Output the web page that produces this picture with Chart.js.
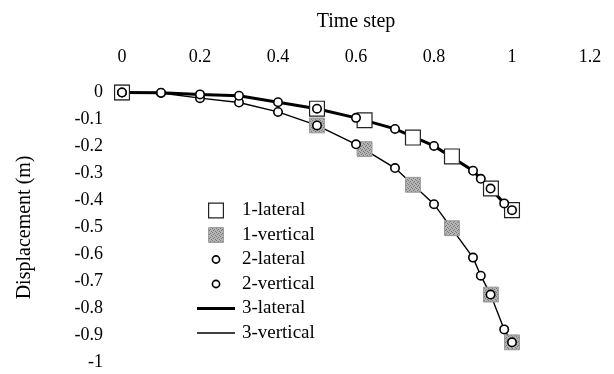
<!DOCTYPE html>
<html>
<head>
<meta charset="utf-8">
<script src="https://cdn.jsdelivr.net/npm/chart.js@4/dist/chart.umd.min.js"></script>
<style>
  html, body { margin: 0; padding: 0; background: #fff; }
  #wrap { position: relative; width: 614px; height: 374px; }
</style>
</head>
<body>
<div id="wrap"><canvas id="dispChart" width="614" height="374"></canvas></div>
<script>
// valores
const xTicks = [0, 0.2, 0.4, 0.6, 0.8, 1, 1.2];
const yTicks = [0, -0.1, -0.2, -0.3, -0.4, -0.5, -0.6, -0.7, -0.8, -0.9, -1];

// serie 1 (cuadrados)
const time1 = [0, 0.5, 0.622, 0.746, 0.846, 0.946, 1.0];
const lateral1 = [0, -0.06, -0.103, -0.167, -0.237, -0.356, -0.436];
const vertical1 = [0, -0.122, -0.21, -0.342, -0.503, -0.749, -0.926];

// serie 2 (circulos)
const time2 = [0, 0.1, 0.2, 0.3, 0.4, 0.5, 0.6, 0.7, 0.8, 0.9, 0.92, 0.945, 0.98, 1.0];
const lateral2 = [0, -0.001, -0.007, -0.012, -0.036, -0.06, -0.094, -0.135, -0.198, -0.29, -0.32, -0.356, -0.411, -0.436];
const vertical2 = [0, -0.002, -0.021, -0.037, -0.072, -0.122, -0.192, -0.28, -0.414, -0.612, -0.679, -0.749, -0.878, -0.926];

// serie 3 (lineas)
const time3 = [0, 0.1, 0.2, 0.3, 0.4, 0.5, 0.6, 0.7, 0.8, 0.9, 0.92, 0.945, 0.98, 1.0];
const lateral3 = [0, -0.001, -0.007, -0.012, -0.036, -0.06, -0.094, -0.135, -0.198, -0.29, -0.32, -0.356, -0.411, -0.436];
const vertical3 = [0, -0.002, -0.021, -0.037, -0.072, -0.122, -0.192, -0.28, -0.414, -0.612, -0.679, -0.749, -0.878, -0.926];

const serif = "'Liberation Serif', 'Times New Roman', serif";

function toPoints(xs, ys) {
  return xs.map((x, i) => ({ x: x, y: ys[i] }));
}

// textura gris para los cuadrados "1-vertical"
function grayPattern() {
  const c = document.createElement('canvas');
  c.width = 4; c.height = 4;
  const g = c.getContext('2d');
  g.fillStyle = '#b4b4b4';
  g.fillRect(0, 0, 4, 4);
  g.fillStyle = '#7a7a7a';
  g.fillRect(0, 0, 1, 1); g.fillRect(2, 1, 1, 1); g.fillRect(1, 2, 1, 1); g.fillRect(3, 3, 1, 1);
  return g.createPattern(c, 'repeat');
}
const gray = grayPattern();

const datasets = [
  {
    label: '1-lateral', data: toPoints(time1, lateral1), showLine: false,
    pointStyle: 'rect', pointRadius: 10.5, pointBackgroundColor: '#fff',
    pointBorderColor: '#222', pointBorderWidth: 1.2, order: 2
  },
  {
    label: '1-vertical', data: toPoints(time1, vertical1), showLine: false,
    pointStyle: 'rect', pointRadius: 10.5, pointBackgroundColor: gray,
    pointBorderColor: '#999', pointBorderWidth: 1, order: 2
  },
  {
    label: '2-lateral', data: toPoints(time2, lateral2), showLine: false,
    pointStyle: 'circle', pointRadius: 4.2, pointBackgroundColor: '#fff',
    pointBorderColor: '#000', pointBorderWidth: 1.6, order: 1
  },
  {
    label: '2-vertical', data: toPoints(time2, vertical2), showLine: false,
    pointStyle: 'circle', pointRadius: 4.2, pointBackgroundColor: '#fff',
    pointBorderColor: '#000', pointBorderWidth: 1.6, order: 1
  },
  {
    label: '3-lateral', data: toPoints(time3, lateral3), showLine: true,
    borderColor: '#000', borderWidth: 3, pointRadius: 0, tension: 0, order: 3
  },
  {
    label: '3-vertical', data: toPoints(time3, vertical3), showLine: true,
    borderColor: '#000', borderWidth: 1.4, pointRadius: 0, tension: 0, order: 3
  }
];

// leyenda dibujada dentro del area del grafico
const insideLegend = {
  id: 'insideLegend',
  afterDraw(chart) {
    const ctx = chart.ctx;
    const x0 = 216, y0 = 210.5, step = 24.5;
    ctx.save();
    ctx.font = '19px ' + serif;
    ctx.textBaseline = 'middle';
    ctx.textAlign = 'left';
    datasets.forEach((ds, i) => {
      const y = y0 + i * step;
      if (ds.showLine) {
        ctx.strokeStyle = ds.borderColor;
        ctx.lineWidth = ds.borderWidth;
        ctx.beginPath();
        ctx.moveTo(x0 - 19, y);
        ctx.lineTo(x0 + 19, y);
        ctx.stroke();
      } else {
        ctx.fillStyle = ds.pointBackgroundColor;
        ctx.strokeStyle = ds.pointBorderColor;
        ctx.lineWidth = ds.pointBorderWidth;
        ctx.beginPath();
        if (ds.pointStyle === 'rect') {
          ctx.rect(x0 - 7.4, y - 7.4, 14.8, 14.8);
        } else {
          ctx.arc(x0, y, 3.6, 0, Math.PI * 2);
        }
        ctx.fill();
        ctx.stroke();
      }
      ctx.fillStyle = '#000';
      ctx.fillText(ds.label, 242, y);
    });
    ctx.restore();
  }
};

new Chart(document.getElementById('dispChart'), {
  type: 'scatter',
  data: { datasets: datasets },
  options: {
    responsive: false,
    animation: false,
    clip: false,
    layout: { padding: { left: 0, right: 24, top: 0, bottom: 8 } },
    plugins: {
      legend: { display: false },
      tooltip: { enabled: false }
    },
    scales: {
      x: {
        type: 'linear',
        position: 'top',
        min: xTicks[0],
        max: xTicks[xTicks.length - 1],
        afterBuildTicks: (scale) => { scale.ticks = xTicks.map(v => ({ value: v })); },
        afterFit: (scale) => {
          scale.height = 92.5;
          scale.paddingLeft = 0;
          scale.paddingRight = 0;
        },
        grid: { display: false, drawTicks: false },
        border: { display: false },
        ticks: {
          color: '#000',
          font: { family: serif, size: 18 },
          padding: 24,
          callback: (v) => String(+v.toFixed(1))
        },
        title: {
          display: true,
          text: 'Time step',
          color: '#000',
          font: { family: serif, size: 20 },
          padding: { top: 10, bottom: 0 }
        }
      },
      y: {
        type: 'linear',
        min: yTicks[yTicks.length - 1],
        max: yTicks[0],
        afterBuildTicks: (scale) => { scale.ticks = yTicks.map(v => ({ value: v })); },
        afterFit: (scale) => {
          scale.width = 122;
          scale.paddingTop = 0;
          scale.paddingBottom = 0;
        },
        grid: { display: false, drawTicks: false },
        border: { display: false },
        ticks: {
          color: '#000',
          font: { family: serif, size: 18 },
          padding: 19,
          callback: (v) => String(+v.toFixed(1))
        },
        title: {
          display: true,
          text: 'Displacement (m)',
          color: '#000',
          font: { family: serif, size: 20 },
          padding: { top: 13, bottom: 0 }
        }
      }
    }
  },
  plugins: [insideLegend]
});
</script>
</body>
</html>
